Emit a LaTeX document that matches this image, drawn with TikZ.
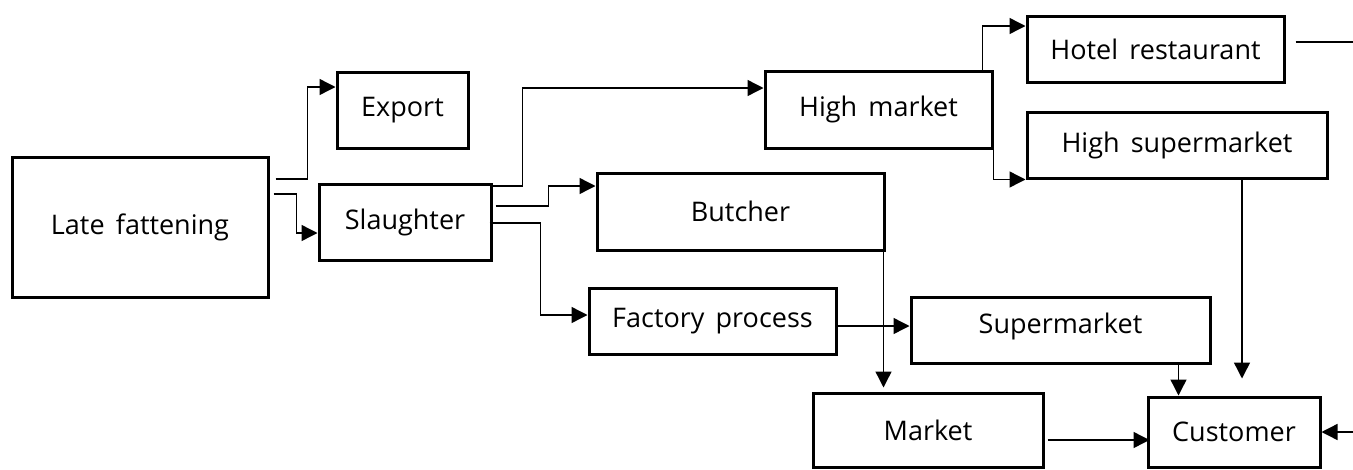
\documentclass[tikz,border=0pt]{standalone}
\usepackage{fontspec}
\setmainfont[WordSpace=1.6]{Open Sans}
\usetikzlibrary{arrows.meta}
\begin{document}
\begin{tikzpicture}[x=1pt,y=-1pt,
    box/.style={rectangle,draw,line width=3pt,inner sep=0pt,font=\fontsize{27}{32}\selectfont},
    flow/.style={line width=1.4pt,-{Triangle[length=16pt,width=16pt]}}]
  \useasboundingbox (0,0) rectangle (1353,469);
  \node[box,minimum width=256pt,minimum height=140pt] (late) at (140,227) {Late fattening};
  \node[box,minimum width=131pt,minimum height=76pt] (export) at (402.5,110) {Export};
  \node[box,minimum width=172pt,minimum height=76pt] (slaughter) at (405,222) {Slaughter};
  \node[box,minimum width=227pt,minimum height=77pt] (highmkt) at (878.5,109.5) {High market};
  \node[box,minimum width=287pt,minimum height=77pt] (butcher) at (740.5,211.5) {Butcher};
  \node[box,minimum width=247pt,minimum height=66pt] (factory) at (712.5,321) {Factory process};
  \node[box,minimum width=299pt,minimum height=66pt,text depth=14pt] (supermkt) at (1060.5,330) {Supermarket};
  \node[box,minimum width=230pt,minimum height=74pt] (market) at (928,430) {Market};
  \node[box,minimum width=172pt,minimum height=70pt] (customer) at (1234,432) {Customer};
  \node[box,minimum width=257pt,minimum height=66pt] (hotel) at (1155.5,49) {Hotel restaurant};
  \node[box,minimum width=300pt,minimum height=66pt] (highsuper) at (1177,145) {High supermarket};
  \coordinate (hotelout) at (1353,42);
  \coordinate (custin) at (1353,432);
  % farm side
  \draw[flow] ([xshift=6pt,yshift=48pt]late.east) -- ++(32,0) |- ([yshift=23pt]export.west);
  \draw[flow] ([xshift=4pt,yshift=33pt]late.east) -- ++(23,0) |- ([yshift=-11pt]slaughter.west);
  \draw[flow] ([yshift=36pt]slaughter.east) -- ++(30,0) |- ([yshift=21.5pt]highmkt.west);
  \draw[flow] ([xshift=3pt,yshift=16pt]slaughter.east) -- ++(53,0) |- ([yshift=25.5pt]butcher.west);
  \draw[flow] ([xshift=-3pt,yshift=-1pt]slaughter.east) -- ++(51,0) |- ([yshift=6pt]factory.west);
  % market side
  \draw[flow] ([xshift=-11pt]highmkt.north east) |- ([yshift=23pt]hotel.west);
  \draw[flow] (highmkt.south east) |- (highsuper.south west);
  \draw[line width=1.4pt] ([xshift=10pt,yshift=7pt]hotel.east) -- (hotelout);
  \draw[flow,shorten >=17pt] ([xshift=65pt]highsuper.south) -- ([xshift=65pt]highsuper.south |- customer.north);
  \draw[flow,shorten >=4pt] ([xshift=-2pt]butcher.south east) -- ([xshift=-2pt]butcher.south east |- market.north);
  \draw[flow] ([yshift=-5pt]factory.east) -- ([yshift=-5pt]factory.east -| supermkt.west);
  \draw[flow] ([xshift=118pt]supermkt.south) -- ([xshift=118pt]supermkt.south |- customer.north);
  \draw[flow] ([xshift=3pt,yshift=-10pt]market.east) -- ([xshift=3pt,yshift=-10pt]market.east -| customer.west);
  \draw[flow] (custin) -- (customer.east);
\end{tikzpicture}
\end{document}
